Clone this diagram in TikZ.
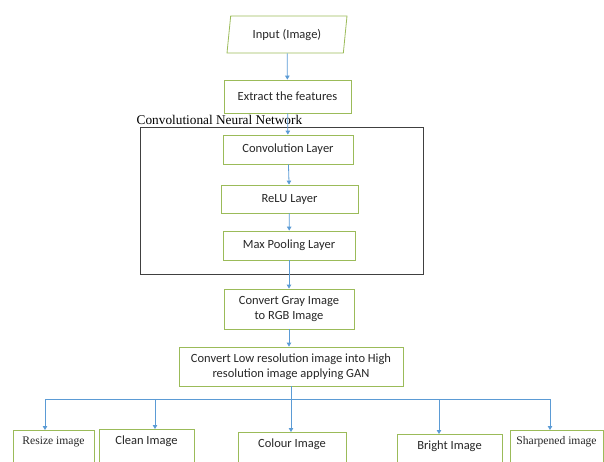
\documentclass[tikz,border=0pt]{standalone}
\usepackage{fontspec}
\setmainfont{Liberation Serif}
\newfontfamily\calibri{Carlito}
\usepackage{xcolor}
\usetikzlibrary{positioning, shapes.geometric, arrows.meta}

\definecolor{vienxanh}{RGB}{155,187,89}
\definecolor{muixanh}{RGB}{91,155,213}
\definecolor{chuxam}{RGB}{38,38,38}

\begin{document}
\begin{tikzpicture}[
    x=1pt, y=-1pt,
    % Ô chữ nhật viền xanh lá
    hop/.style={draw=vienxanh, line width=0.8pt, text=chuxam, inner sep=0pt,
        align=center, font=\calibri\fontsize{12.5}{14.5}\selectfont},
    % Ô ở hàng dưới cùng (bị cắt ở mép ảnh)
    hopduoi/.style={hop, anchor=north, inner ysep=6pt, text depth=30pt},
    % Chữ có chân
    chuchan/.style={font=\fontsize{11.6}{14}\selectfont},
    % Hình bình hành cho đầu vào
    vao/.style={hop, trapezium, trapezium left angle=72, trapezium right angle=108,
        trapezium stretches body},
    % Mũi tên xanh dương
    mui/.style={draw=muixanh, line width=0.8pt, -{Triangle[width=4.5pt,length=4pt]}},
    day/.style={draw=muixanh, line width=0.8pt}
]

\useasboundingbox (0,0) rectangle (604,461);
\clip (0,0) rectangle (604,461);

% Khung CNN
\node[draw=black!75, line width=1pt, minimum width=283, minimum height=147, inner sep=0pt]
    (cnn) at (281.5,200.5) {};
\node[anchor=base west, inner sep=0pt, font=\fontsize{13.3}{15}\selectfont]
    (cnnten) at ([xshift=-3pt, yshift=2pt]cnn.north west) {Convolutional Neural Network};

% Các bước chính
\node[vao, minimum width=120, minimum height=37] (input) at (287,34.5) {Input (Image)};
\node[hop, minimum width=127, minimum height=33] (extract) at (287.5,96.5) {Extract the features};
\node[hop, minimum width=130, minimum height=29] (conv) at (288,149.5) {Convolution Layer};
\node[hop, minimum width=137, minimum height=28] (relu) at (289.5,199) {ReLU Layer};
\node[hop, minimum width=132, minimum height=29] (pool) at (289,245.5) {Max Pooling Layer};
\node[hop, minimum width=130, minimum height=40] (gray) at (289,309) {Convert Gray Image\\to RGB Image};
\node[hop, minimum width=224, minimum height=39] (gan) at (291,366.5)
    {Convert Low resolution image into High\\resolution image applying GAN};

% Hàng kết quả
\node[hopduoi, chuchan, minimum width=81] (resize) at (53.5,430) {Resize image};
\node[hopduoi, minimum width=95] (clean) at (146.5,429) {Clean Image};
\node[hopduoi, minimum width=108] (colour) at (292,432) {Colour Image};
\node[hopduoi, minimum width=105] (bright) at (449.5,434) {Bright Image};
\node[hopduoi, chuchan, minimum width=93] (sharp) at (556.5,430) {Sharpened image};

% Mũi tên nối
\draw[mui] (input) -- (extract);
\draw[mui] (extract) -- (conv);
\draw[mui] (conv) -- (relu);
\draw[mui] (relu) -- (pool);
\draw[mui] (pool.south) -- (pool.south |- gray.north);
\draw[mui] (gray) -- (gray |- gan.north);
\draw[mui] (gan.south) -- (gan.south |- colour.north);

% Thanh ngang phân nhánh
\coordinate (nhanh) at (0,399);
\draw[day] ([xshift=-8.5pt]resize.north |- nhanh) -- ([xshift=-6.5pt]sharp.north |- nhanh);
\draw[mui] ([xshift=-8.5pt]resize.north |- nhanh) -- ([xshift=-8.5pt]resize.north);
\draw[mui] ([xshift=8.5pt]clean.north |- nhanh) -- ([xshift=8.5pt]clean.north);
\draw[mui] ([xshift=-10.5pt]bright.north |- nhanh) -- ([xshift=-10.5pt]bright.north);
\draw[mui] ([xshift=-6.5pt]sharp.north |- nhanh) -- ([xshift=-6.5pt]sharp.north);

\end{tikzpicture}
\end{document}
